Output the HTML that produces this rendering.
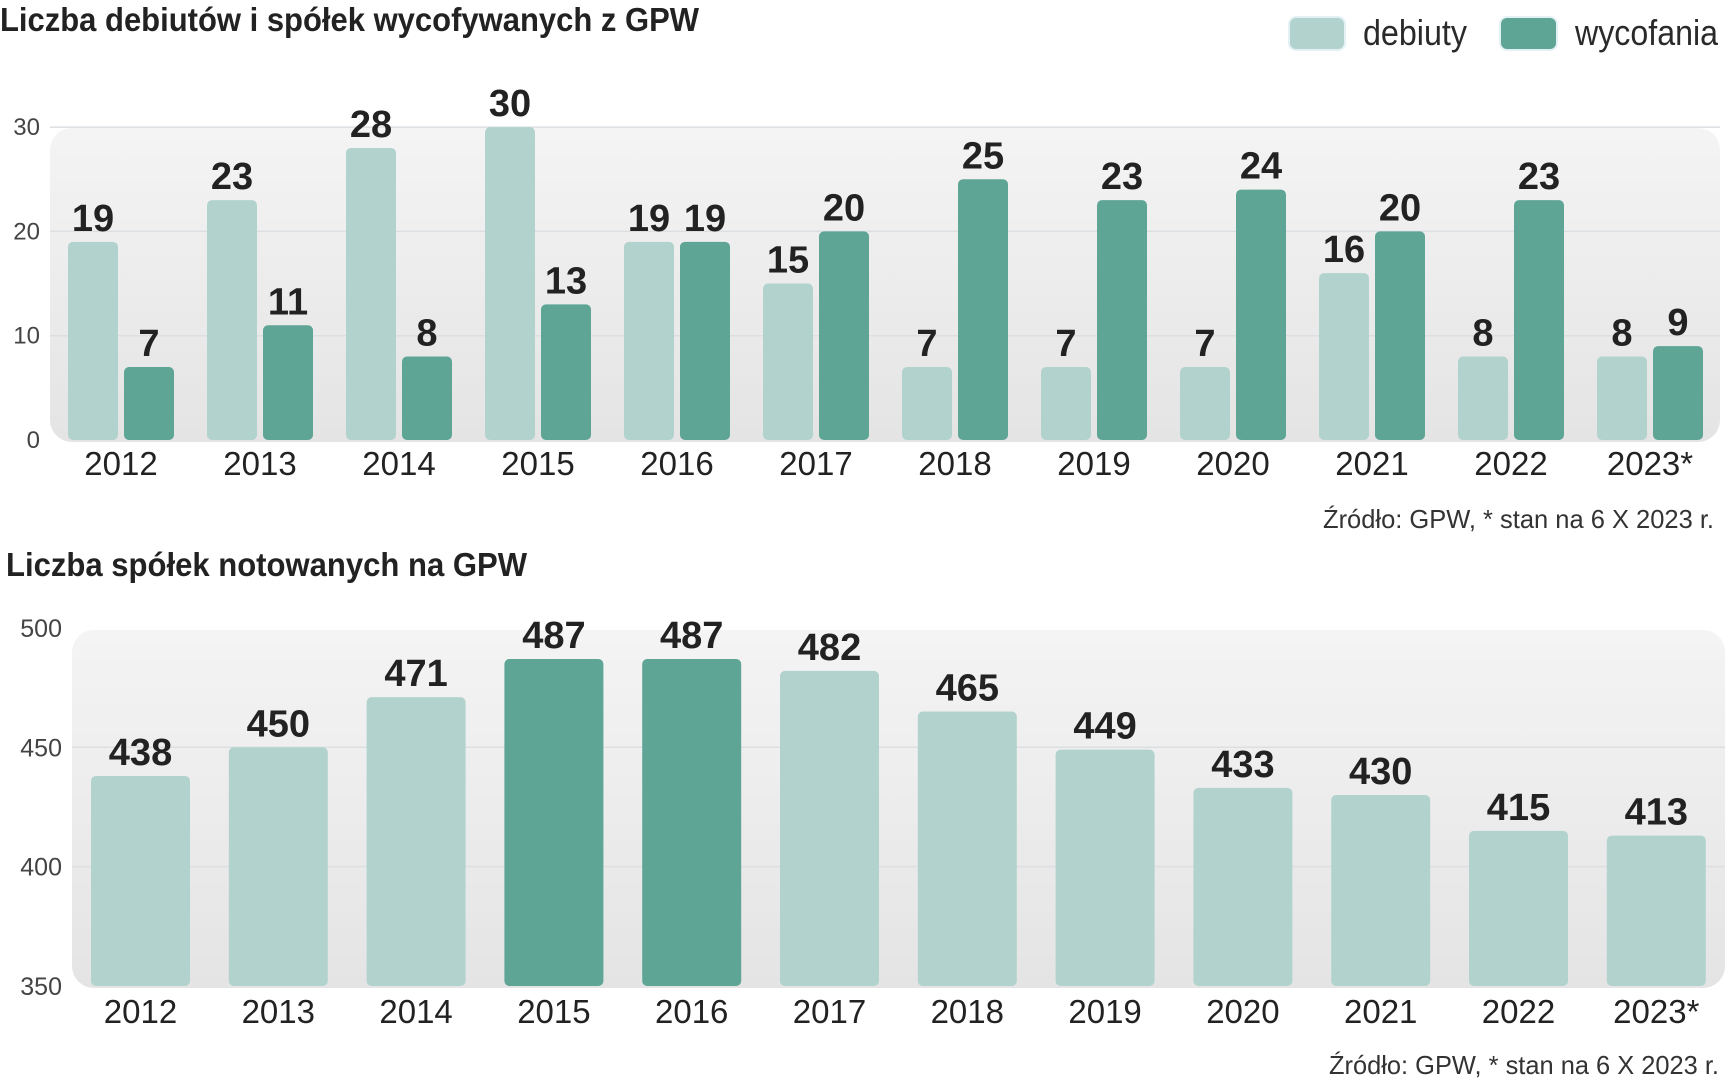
<!DOCTYPE html>
<html><head><meta charset="utf-8"><style>
html,body{margin:0;padding:0;background:#fff;}
svg{display:block;font-family:"Liberation Sans Narrow","Liberation Sans",sans-serif;}
</style></head><body>
<svg id="c" width="1732" height="1080" viewBox="0 0 1732 1080">
<defs>
<linearGradient id="pg" x1="0" y1="0" x2="0" y2="1"><stop offset="0" stop-color="#f4f4f4"/><stop offset="1" stop-color="#e4e4e4"/></linearGradient>
</defs>
<text x="0" y="31" font-size="33" font-weight="bold" fill="#222" textLength="699" lengthAdjust="spacingAndGlyphs">Liczba debiutów i spółek wycofywanych z GPW</text>
<g>
<rect x="1289" y="17" width="56" height="33" rx="7" fill="#b2d3cd" stroke="#e3f1f5" stroke-width="2"/>
<text x="1363" y="45" font-size="36" fill="#2a2a2a" font-family="Liberation Sans, sans-serif" textLength="104" lengthAdjust="spacingAndGlyphs">debiuty</text>
<rect x="1500" y="17" width="57" height="33" rx="7" fill="#5ea596" stroke="#e3f1f5" stroke-width="2"/>
<text x="1575" y="45" font-size="36" fill="#2a2a2a" font-family="Liberation Sans, sans-serif" textLength="143" lengthAdjust="spacingAndGlyphs">wycofania</text>
</g>
<rect x="50" y="128" width="1670" height="314" rx="22" fill="url(#pg)"/>
<g id="topg"></g>
<text x="1714" y="528" font-size="26" fill="#333" text-anchor="end" textLength="391" lengthAdjust="spacingAndGlyphs">Źródło: GPW, * stan na 6 X 2023 r.</text>
<text x="6" y="576" font-size="33" font-weight="bold" fill="#222" textLength="521" lengthAdjust="spacingAndGlyphs">Liczba spółek notowanych na GPW</text>
<rect x="72" y="630" width="1653" height="358" rx="22" fill="url(#pg)"/>
<g id="botg"></g>
<text x="1719" y="1074" font-size="26" fill="#333" text-anchor="end" textLength="390" lengthAdjust="spacingAndGlyphs">Źródło: GPW, * stan na 6 X 2023 r.</text>
</svg>
<script>
const years = ["2012","2013","2014","2015","2016","2017","2018","2019","2020","2021","2022","2023*"];
const debiuty = [19,23,28,30,19,15,7,7,7,16,8,8];
const wycofania = [7,11,8,13,19,20,25,23,24,20,23,9];
const topTicks = [0,10,20,30];
const listed = [438,450,471,487,487,482,465,449,433,430,415,413];
const highlight = [false,false,false,true,true,false,false,false,false,false,false,false];
const botTicks = [350,400,450,500];

const NS = "http://www.w3.org/2000/svg";
function mk(parent, tag, attrs, txt) {
  const e = document.createElementNS(NS, tag);
  for (const k in attrs) e.setAttribute(k, attrs[k]);
  if (txt !== undefined) e.textContent = txt;
  parent.appendChild(e);
  return e;
}
const LIGHT = "#b2d3cd", DARK = "#5ea596";

const gTop = document.getElementById("topg");
const yT = v => 440 - v * 10.43;
const xT = i => 68 + 139 * i;
topTicks.forEach(t => {
  if (t > 0) {
    const g = mk(gTop, "line", {x1: 50, x2: 1720, y1: yT(t), y2: yT(t), stroke: "#dcdfe2", "stroke-width": 1.5});
    
    
  }
  const l = mk(gTop, "text", {x: 40, y: yT(t) + 8, "font-size": 24, fill: "#444", "text-anchor": "end", "font-family": "Liberation Sans, sans-serif"}, String(t));
  
  
});
years.forEach((yr, i) => {
  const vals = [debiuty[i], wycofania[i]];
  vals.forEach((v, j) => {
    const x = xT(i) + j * 56;
    const h = 440 - yT(v);
    const r = mk(gTop, "rect", {x: x, y: yT(v), width: 50, height: h, rx: 5, fill: j ? DARK : LIGHT});
    
    
    const t = mk(gTop, "text", {x: x + 25, y: yT(v) - 11, "font-size": 38, "font-weight": "bold", fill: "#222", "text-anchor": "middle"}, String(v));
    
    
  });
  const yl = mk(gTop, "text", {x: xT(i) + 53, y: 475, "font-size": 33, fill: "#222", "text-anchor": "middle", "font-family": "Liberation Sans, sans-serif"}, yr);
  
  
});

const gBot = document.getElementById("botg");
const yB = v => 986 - (v - 350) * 2.387;
const xB = i => 91 + 137.8 * i;
botTicks.forEach(t => {
  if (t > 350 && t < 500) {
    const g = mk(gBot, "line", {x1: 72, x2: 1725, y1: yB(t), y2: yB(t), stroke: "#dcdfe2", "stroke-width": 1.5});
    
    
  }
  const l = mk(gBot, "text", {x: 62, y: yB(t) + 9, "font-size": 25, fill: "#444", "text-anchor": "end", "font-family": "Liberation Sans, sans-serif"}, String(t));
  
  
});
years.forEach((yr, i) => {
  const v = listed[i];
  const r = mk(gBot, "rect", {x: xB(i), y: yB(v), width: 99, height: 986 - yB(v), rx: 5, fill: highlight[i] ? DARK : LIGHT});
  
  
  const t = mk(gBot, "text", {x: xB(i) + 49.5, y: yB(v) - 11, "font-size": 38, "font-weight": "bold", fill: "#222", "text-anchor": "middle"}, String(v));
  
  
  const yl = mk(gBot, "text", {x: xB(i) + 49.5, y: 1023, "font-size": 33, fill: "#222", "text-anchor": "middle", "font-family": "Liberation Sans, sans-serif"}, yr);
  
  
});
</script>
</body></html>
